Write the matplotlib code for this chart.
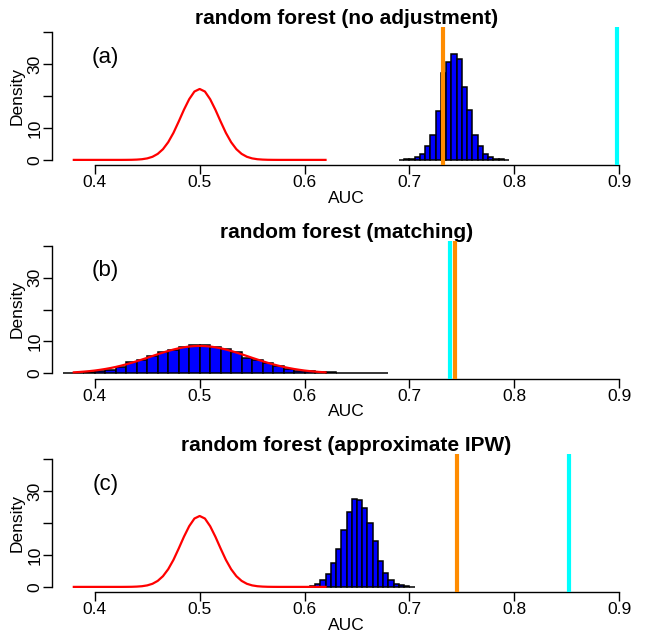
import matplotlib
matplotlib.use("Agg")
import matplotlib.pyplot as plt
import numpy as np

plt.rcParams['font.family'] = ['Liberation Sans', 'DejaVu Sans']

# ---------------- data ----------------
titles = ["random forest (no adjustment)",
          "random forest (matching)",
          "random forest (approximate IPW)"]
panel_tags = ["(a)", "(b)", "(c)"]

x_ticks = [0.4, 0.5, 0.6, 0.7, 0.8, 0.9]
x_tick_labels = ["0.4", "0.5", "0.6", "0.7", "0.8", "0.9"]
y_ticks = [0, 10, 20, 30, 40]
y_tick_labels = ["0", "10", "", "30", ""]

# histogram of AUC (density), panel (a)
hist_a_start = 0.690
hist_a_width = 0.005
hist_a_density = [0.1, 0.2, 0.2, 0.8, 1.8, 4.2, 7.8, 15.3, 27.1, 30.5, 33.2,
                  31.5, 22.7, 15.7, 7.9, 4.2, 1.7, 0.8, 0.4, 0.2, 0.1]

# panel (b)
hist_b_start = 0.37
hist_b_width = 0.01
hist_b_density = [0.1, 0.2, 0.4, 0.7, 1.1, 1.9, 3.5, 4.2, 5.4, 6.6, 7.3, 8.4,
                  9.0, 8.75, 8.3, 7.6, 6.6, 4.7, 4.2, 3.1, 2.2, 1.35, 0.8, 0.7,
                  0.4, 0.3, 0.2, 0.1, 0.1, 0.1, 0.05]

# panel (c)
hist_c_start = 0.605
hist_c_width = 0.005
hist_c_density = [0.2, 0.9, 2.3, 3.9, 7.6, 11.9, 17.9, 23.5, 27.5, 27.3, 24.6,
                  20.1, 14.4, 8.2, 4.3, 2.1, 0.9, 0.5, 0.2, 0.1]

# null density curves (red), sampled on 0.38 ... 0.62 every 0.005
curve_x = np.round(np.linspace(0.38, 0.62, 49), 3)
null_curve_narrow = [0, 0, 0, 0, 0, 0, 0, 0, 0, 0,
                     0.01, 0.03, 0.09, 0.21, 0.47, 0.97, 1.88, 3.35, 5.54, 8.46,
                     12.0, 15.7, 19.0, 21.4, 22.2,
                     21.4, 19.0, 15.7, 12.0, 8.46, 5.54, 3.35, 1.88, 0.97, 0.47,
                     0.21, 0.09, 0.03, 0.01,
                     0, 0, 0, 0, 0, 0, 0, 0, 0, 0]
null_curve_wide = [0.33, 0.43, 0.56, 0.71, 0.89, 1.12, 1.38, 1.68, 2.02, 2.41,
                   2.84, 3.30, 3.81, 4.34, 4.88, 5.44, 5.99, 6.52, 7.02, 7.47,
                   7.86, 8.17, 8.41, 8.55, 8.6,
                   8.55, 8.41, 8.17, 7.86, 7.47, 7.02, 6.52, 5.99, 5.44, 4.88,
                   4.34, 3.81, 3.30, 2.84, 2.41, 2.02, 1.68, 1.38, 1.12, 0.89,
                   0.71, 0.56, 0.43, 0.33]

# observed AUC values (vertical lines)
orange_auc = [0.732, 0.743, 0.745]
cyan_auc = [0.898, 0.739, 0.852]

panels = [
    (hist_a_start, hist_a_width, hist_a_density, null_curve_narrow),
    (hist_b_start, hist_b_width, hist_b_density, null_curve_wide),
    (hist_c_start, hist_c_width, hist_c_density, null_curve_narrow),
]

# ---------------- figure ----------------
W, H = 646, 635
fig = plt.figure(figsize=(W / 100, H / 100), dpi=100)

plot_left, plot_w, plot_h = 52, 589, 138
plot_tops = [27, 240.5, 454]

for i, (start, width, dens, curve) in enumerate(panels):
    top = plot_tops[i]
    ax = fig.add_axes([plot_left / W, 1 - (top + plot_h) / H, plot_w / W, plot_h / H])

    edges = start + width * np.arange(len(dens))
    ax.bar(edges, dens, width=width, align='edge', color='#0000FF',
           edgecolor='black', linewidth=1.1, zorder=2)
    ax.plot(curve_x, curve, color='#FF0000', lw=1.6, zorder=3,
            solid_joinstyle='round')
    ax.axvline(cyan_auc[i], color='#00FFFF', lw=3.0, zorder=4)
    ax.axvline(orange_auc[i], color='#FF8C00', lw=3.0, zorder=5)

    ax.set_xlim(0.3592, 0.9208)
    ax.set_ylim(-1.6, 41.6)

    for s in ['top', 'right']:
        ax.spines[s].set_visible(False)
    ax.spines['left'].set_bounds(0, 40)
    ax.spines['bottom'].set_bounds(0.4, 0.9)
    ax.spines['left'].set_linewidth(1.0)
    ax.spines['bottom'].set_linewidth(1.0)

    ax.set_xticks(x_ticks)
    ax.set_xticklabels(x_tick_labels)
    ax.set_yticks(y_ticks)
    ax.set_yticklabels(y_tick_labels, rotation=90, va='center')
    ax.tick_params(axis='both', direction='out', length=6.5, width=1.0,
                   labelsize=12.5, colors='black')
    ax.tick_params(axis='x', pad=1)
    ax.tick_params(axis='y', pad=0.5)

    ax.text(0.5, 1 + 3 / plot_h, titles[i], transform=ax.transAxes,
            ha='center', va='baseline', fontsize=15, fontweight='bold')
    ax.text(0.41, 32.2, panel_tags[i], ha='center', va='center', fontsize=16)
    ax.text(-34.5 / plot_w, 0.5, "Density", transform=ax.transAxes,
            rotation=90, ha='center', va='center', fontsize=12.5)
    ax.text(0.5, -(203 - 165) / plot_h, "AUC", transform=ax.transAxes,
            ha='center', va='baseline', fontsize=12.5)

fig.savefig("out.png", dpi=100)
